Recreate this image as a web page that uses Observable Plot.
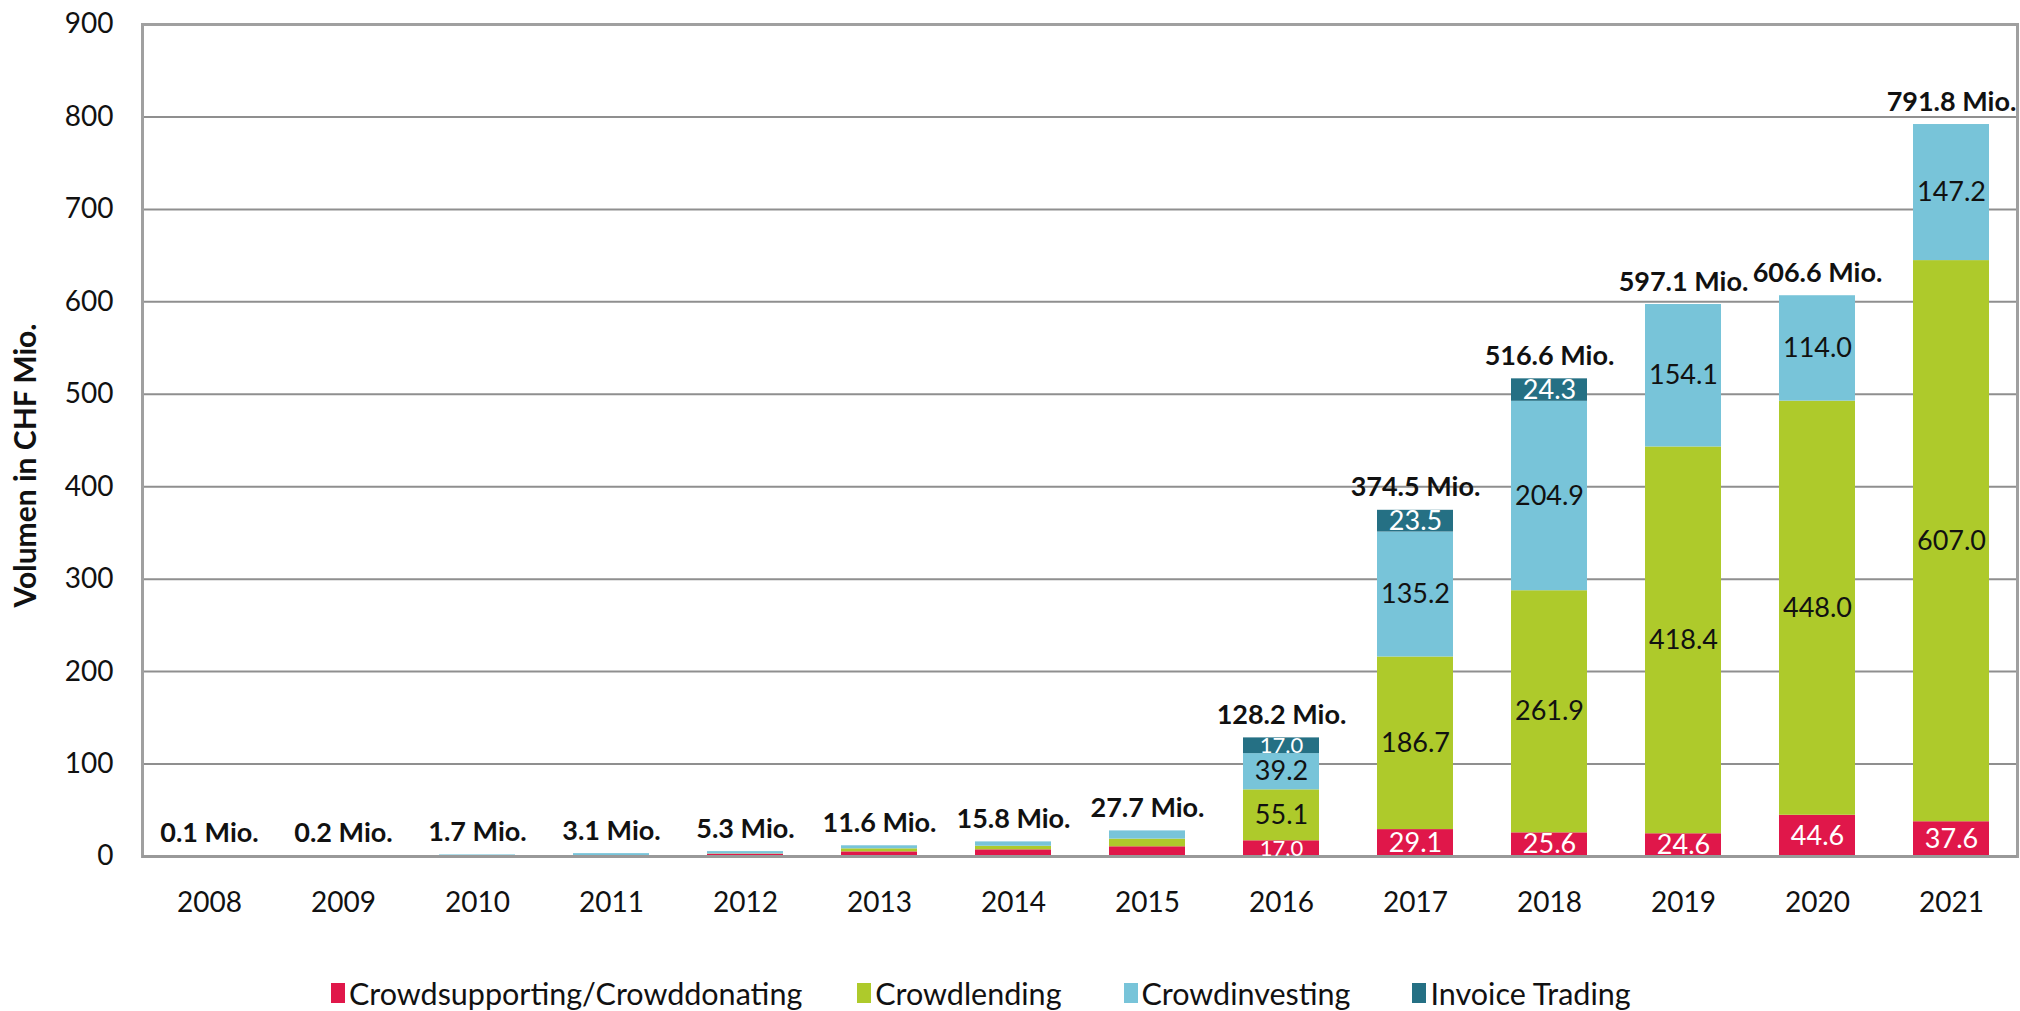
<!DOCTYPE html>
<html>
<head>
<meta charset="utf-8">
<script src="https://cdn.jsdelivr.net/npm/d3@7"></script>
<script src="https://cdn.jsdelivr.net/npm/@observablehq/plot@0.6"></script>
<style>
  html, body { margin: 0; padding: 0; background: #fff; }
  #wrap { position: relative; width: 2020px; height: 1011px; font-family: Lato, "Open Sans", sans-serif; color: #111; }
  #legend { position: absolute; left: 331px; top: 972px; height: 42px; display: flex; align-items: center; font-size: 30.5px; color: #111; }
  #legend .item { display: flex; align-items: center; margin-right: 62px; }
  #legend .item:first-child { margin-right: 55px; }
  #legend .sw { display: inline-block; width: 14px; height: 20px; margin-right: 4px; }
</style>
</head>
<body>
<div id="wrap">
  <div id="chart"></div>
  <div id="legend"></div>
</div>
<script>
const years = ["2008","2009","2010","2011","2012","2013","2014","2015","2016","2017","2018","2019","2020","2021"];
const categories = ["Crowdsupporting/Crowddonating","Crowdlending","Crowdinvesting","Invoice Trading"];
const colors = ["#E0174A","#AECA2B","#78C4D9","#257084"];
const supporting = [0.1, 0.2, 0.6, 1.0, 2.5, 5.0, 7.2, 10.5, 17.0, 29.1, 25.6, 24.6, 44.6, 37.6];
const lending    = [0, 0, 0, 0, 0.3, 3.3, 3.9, 8.3, 55.1, 186.7, 261.9, 418.4, 448.0, 607.0];
const investing  = [0, 0, 1.1, 2.1, 2.5, 3.3, 4.7, 8.9, 39.2, 135.2, 204.9, 154.1, 114.0, 147.2];
const invoice    = [0, 0, 0, 0, 0, 0, 0, 0, 17.0, 23.5, 24.3, 0, 0, 0];
const totals     = [0.1, 0.2, 1.7, 3.1, 5.3, 11.6, 15.8, 27.7, 128.2, 374.5, 516.6, 597.1, 606.6, 791.8];
const yTicks = [0, 100, 200, 300, 400, 500, 600, 700, 800, 900];
const yLabel = "Volumen in CHF Mio.";
const firstLabelledYear = "2016";

const series = [supporting, lending, investing, invoice];
const data = years.flatMap((yr, i) => categories.map((c, j) => ({year: yr, category: c, value: series[j][i]})));
const labelData = data.filter(d => d.year >= firstLabelledYear && d.value > 0);
const totalData = years.map((yr, i) => ({year: yr, total: totals[i]}));
const darkCats = new Set([categories[0], categories[3]]);

const chart = Plot.plot({
  width: 2020,
  height: 960,
  marginLeft: 142,
  marginRight: 3,
  marginTop: 24,
  marginBottom: 104,
  style: {fontFamily: "Lato, 'Open Sans', sans-serif", fontSize: "28px", color: "#111", background: "#fff"},
  x: {domain: years, paddingInner: 0.435, paddingOuter: 0.19, label: null},
  y: {domain: [0, 900], label: null},
  color: {domain: categories, range: colors},
  marks: [
    Plot.gridY(yTicks, {stroke: "#8f8f8f", strokeOpacity: 1, strokeWidth: 2}),
    Plot.barY(data, {x: "year", y: "value", fill: "category", order: categories}),
    Plot.frame({stroke: "#a0a0a0", strokeWidth: 3}),
    Plot.ruleY([0], {stroke: "#999", strokeWidth: 3}),
    Plot.text(labelData, Plot.stackY({
      x: "year", y: "value", z: "category", order: categories,
      text: d => d.value.toFixed(1),
      fill: d => darkCats.has(d.category) ? "white" : "#111",
      fontSize: d => d.value < 20 ? 22 : 27
    })),
    Plot.text(totalData, {
      x: "year", y: "total",
      text: d => d.total.toFixed(1) + " Mio.",
      lineAnchor: "bottom", dy: -14, fontWeight: "bold", fontSize: 27, fill: "#111"
    }),
    Plot.axisX({tickSize: 0, tickPadding: 36, fontSize: 28, label: null}),
    Plot.axisY(yTicks, {tickSize: 0, tickPadding: 29, fontSize: 28, label: null}),
    Plot.text([yLabel], {frameAnchor: "left", textAnchor: "middle", dx: -116, dy: 25, rotate: -90, fontWeight: "bold", fontSize: 30, fill: "#111"})
  ]
});
document.getElementById("chart").appendChild(chart);

const legend = document.getElementById("legend");
categories.forEach((c, i) => {
  const item = document.createElement("div");
  item.className = "item";
  const sw = document.createElement("span");
  sw.className = "sw";
  sw.style.background = colors[i];
  const t = document.createElement("span");
  t.textContent = c;
  item.appendChild(sw);
  item.appendChild(t);
  legend.appendChild(item);
});
</script>
</body>
</html>
